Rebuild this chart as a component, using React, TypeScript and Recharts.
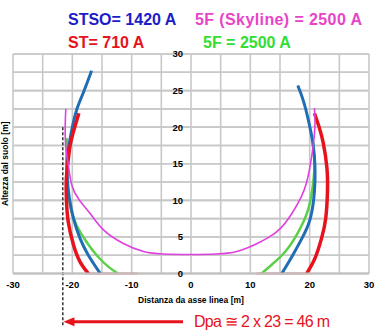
import React from 'react';
import { ComposedChart, Line, XAxis, YAxis, CartesianGrid, ReferenceLine, ReferenceDot, ReferenceArea } from 'recharts';

type P = { x: number; y: number };

const xTicks = [-30, -25, -20, -15, -10, -5, 0, 5, 10, 15, 20, 25, 30];
const yTicks = [0, 2.5, 5, 7.5, 10, 12.5, 15, 17.5, 20, 22.5, 25, 27.5, 30];
const yLabelValues = [0, 5, 10, 15, 20, 25, 30];

// STSO = 1420 A (blue)
const stsoLeft: P[] = [
  { x: -16.75, y: 27.7 }, { x: -18.2, y: 24.6 }, { x: -19.3, y: 22.3 }, { x: -20.1, y: 19.6 },
  { x: -20.7, y: 16.8 }, { x: -20.9, y: 14.6 }, { x: -20.8, y: 12.5 }, { x: -20.5, y: 10.3 },
  { x: -19.8, y: 7.5 }, { x: -18.7, y: 4.8 }, { x: -17.3, y: 2.5 }, { x: -15.3, y: 0 },
];
const stsoRight: P[] = [
  { x: 15.3, y: 0 }, { x: 17.0, y: 2.3 }, { x: 18.7, y: 4.8 }, { x: 20.1, y: 7.5 },
  { x: 20.8, y: 11.2 }, { x: 20.9, y: 14.5 }, { x: 20.6, y: 17.5 }, { x: 19.8, y: 20.9 },
  { x: 18.9, y: 23.7 }, { x: 18.0, y: 25.7 },
];

// ST = 710 A (red)
const stLeft: P[] = [
  { x: -18.9, y: 21.9 }, { x: -19.6, y: 20.0 }, { x: -20.3, y: 17.8 }, { x: -20.7, y: 15.5 },
  { x: -21.0, y: 13.0 }, { x: -21.0, y: 10.3 }, { x: -20.7, y: 7.1 }, { x: -19.8, y: 3.9 },
  { x: -18.7, y: 1.6 }, { x: -17.3, y: 0 },
];
const stRight: P[] = [
  { x: 19.5, y: 0 }, { x: 20.9, y: 2.1 }, { x: 22.0, y: 4.8 }, { x: 22.7, y: 7.5 },
  { x: 23.0, y: 11.2 }, { x: 22.9, y: 14.5 }, { x: 22.3, y: 17.8 }, { x: 21.6, y: 20.0 },
  { x: 20.8, y: 21.9 },
];
const stGroundLeft: P[] = [{ x: -17.3, y: 0 }, { x: -9.0, y: 0 }];
const stGroundRight: P[] = [{ x: 11.0, y: 0 }, { x: 19.5, y: 0 }];

// 5F = 2500 A (green)
const f5Left: P[] = [
  { x: -20.9, y: 18.5 }, { x: -21.0, y: 16.0 }, { x: -20.9, y: 13.0 }, { x: -20.4, y: 9.3 },
  { x: -19.3, y: 6.6 }, { x: -17.6, y: 4.3 }, { x: -15.9, y: 2.5 }, { x: -13.9, y: 0.9 },
  { x: -12.3, y: 0 },
];
const f5Right: P[] = [
  { x: 11.9, y: 0 }, { x: 13.6, y: 1.2 }, { x: 15.9, y: 3.0 }, { x: 18.1, y: 5.7 },
  { x: 19.8, y: 8.9 }, { x: 20.6, y: 12.5 }, { x: 20.8, y: 15.0 }, { x: 20.6, y: 18.0 },
];

// 5F (Skyline) = 2500 A (magenta)
const skyline: P[] = [
  { x: -21.1, y: 22.5 }, { x: -21.2, y: 20.0 }, { x: -21.1, y: 17.3 }, { x: -20.7, y: 15.0 },
  { x: -20.1, y: 12.1 }, { x: -18.8, y: 10.0 }, { x: -17.0, y: 8.2 }, { x: -14.8, y: 6.0 },
  { x: -11.4, y: 4.1 }, { x: -8.0, y: 3.0 }, { x: -4.7, y: 2.66 }, { x: 0, y: 2.6 },
  { x: 4.3, y: 2.66 }, { x: 7.7, y: 3.0 }, { x: 10.9, y: 4.0 }, { x: 13.0, y: 4.9 },
  { x: 15.0, y: 6.1 }, { x: 17.0, y: 8.2 }, { x: 18.6, y: 10.5 }, { x: 19.5, y: 12.5 },
  { x: 20.1, y: 14.8 }, { x: 20.6, y: 17.5 }, { x: 20.9, y: 20.5 }, { x: 20.8, y: 22.6 },
];

const dpaLine: P[] = [{ x: -21.6, y: 20 }, { x: -21.6, y: -7.1 }];
const dpaArrow: P[] = [{ x: -1.35, y: -6.6 }, { x: -21.5, y: -6.6 }];

const RED = '#e8121c';
const BLUE = '#1f6db4';
const GREEN = '#5ccf48';
const PINK = '#e040e0';
const GRID = '#c8c8c8';

const ArrowShape = (props: any) => {
  const { x1, y1, x2, y2 } = props;
  return (
    <g>
      <line x1={x1} y1={y1} x2={x2 + 8} y2={y2} stroke={RED} strokeWidth={3} />
      <polygon points={`${x2},${y2} ${x2 + 11},${y2 - 4.5} ${x2 + 11},${y2 + 4.5}`} fill={RED} />
    </g>
  );
};

const EmptyTick = () => <g />;

// half thickness (in data units) of each horizontal grid band
const GRID_HALF = 0.11;

export default function App() {
  const font = '"Liberation Sans", Arial, sans-serif';
  return (
    <div style={{ position: 'absolute', left: 0, top: 0, width: 391, height: 334, background: '#fff' }}>
      <ComposedChart
        width={391}
        height={334}
        margin={{ top: 54, right: 22, bottom: 30.5, left: 0 }}
        style={{ fontFamily: font }}
      >
        <CartesianGrid stroke={GRID} strokeWidth={1.6} horizontalValues={yTicks} verticalValues={xTicks} />
        {yTicks.map((v) => (
          <ReferenceArea
            key={`h${v}`}
            x1={xTicks[0]}
            x2={xTicks[xTicks.length - 1]}
            y1={v - GRID_HALF}
            y2={v + GRID_HALF}
            ifOverflow="visible"
            fill={GRID}
            fillOpacity={1}
            stroke="none"
          />
        ))}
        <XAxis
          type="number"
          dataKey="x"
          domain={[-30, 30]}
          ticks={xTicks}
          interval={0}
          tickFormatter={(v: number) => (v % 10 === 0 ? String(v) : '')}
          tickLine={false}
          axisLine={{ stroke: '#c0c0c0', strokeWidth: 2 }}
          tick={{ fill: '#000', fontSize: 9.5, fontWeight: 'bold' }}
          height={30}
          label={{ value: 'Distanza da asse linea [m]', position: 'insideBottom', offset: 1, fill: '#000', fontSize: 8.5, fontWeight: 'bold' }}
        />
        <YAxis
          type="number"
          domain={[0, 30]}
          ticks={yTicks}
          interval={0}
          tick={EmptyTick}
          tickLine={false}
          axisLine={false}
          width={13}
          label={{ value: 'Altezza dal suolo [m]', angle: -90, position: 'center', dx: -1.5, fill: '#000', fontSize: 8.5, fontWeight: 'bold' }}
        />
        {yLabelValues.map((v) => (
          <ReferenceDot
            key={v}
            x={0}
            y={v}
            r={0}
            fill="none"
            stroke="none"
            ifOverflow="visible"
            label={{ value: String(v), position: 'left', offset: 8, fill: '#000', fontSize: 9.5, fontWeight: 'bold' }}
          />
        ))}
        <Line data={stGroundLeft} dataKey="y" type="linear" stroke={RED} strokeOpacity={0.45} strokeWidth={2} dot={false} isAnimationActive={false} />
        <Line data={stGroundRight} dataKey="y" type="linear" stroke={RED} strokeOpacity={0.45} strokeWidth={2} dot={false} isAnimationActive={false} />
        <Line data={f5Left} dataKey="y" type="natural" stroke={GREEN} strokeWidth={2.5} dot={false} isAnimationActive={false} />
        <Line data={f5Right} dataKey="y" type="natural" stroke={GREEN} strokeWidth={2.5} dot={false} isAnimationActive={false} />
        <Line data={stsoLeft} dataKey="y" type="natural" stroke={BLUE} strokeWidth={3} dot={false} isAnimationActive={false} />
        <Line data={stsoRight} dataKey="y" type="natural" stroke={BLUE} strokeWidth={3} dot={false} isAnimationActive={false} />
        <Line data={stLeft} dataKey="y" type="natural" stroke={RED} strokeWidth={3.5} dot={false} isAnimationActive={false} />
        <Line data={stRight} dataKey="y" type="natural" stroke={RED} strokeWidth={3.5} dot={false} isAnimationActive={false} />
        <Line data={skyline} dataKey="y" type="natural" stroke={PINK} strokeWidth={1.6} dot={false} isAnimationActive={false} />
        <ReferenceLine
          segment={dpaLine}
          ifOverflow="visible"
          stroke="#000"
          strokeWidth={1.2}
          strokeDasharray="3 2"
        />
        <ReferenceLine segment={dpaArrow} ifOverflow="visible" shape={ArrowShape} />
      </ComposedChart>
      <svg
        width={391}
        height={334}
        style={{ position: 'absolute', left: 0, top: 0, pointerEvents: 'none', fontFamily: font }}
      >
        <text x={68} y={25} fill="#1c1cc8" fontSize={16} fontWeight="bold">STSO= 1420 A</text>
        <text x={68} y={48} fill="#e8121c" fontSize={16} fontWeight="bold">ST= 710 A</text>
        <text x={195} y={25} fill="#e844c8" fontSize={16} fontWeight="bold" textLength={167} lengthAdjust="spacing">5F (Skyline) = 2500 A</text>
        <text x={203} y={48} fill="#33dd33" fontSize={16} fontWeight="bold">5F = 2500 A</text>
        <text x={194} y={327} fill="#e8121c" fontSize={16} textLength={136} lengthAdjust="spacing">Dpa  ≅ 2 x 23 = 46 m</text>
      </svg>
    </div>
  );
}
